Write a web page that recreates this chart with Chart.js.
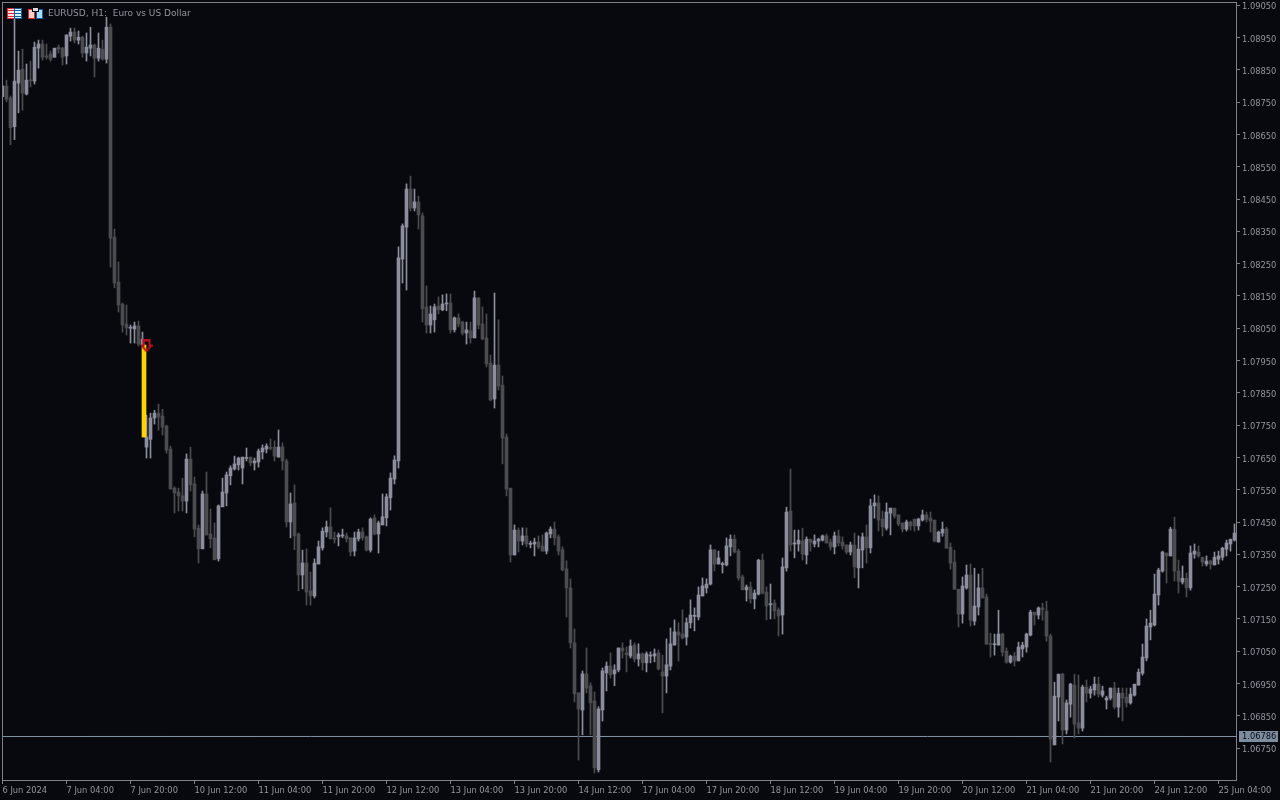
<!DOCTYPE html>
<html>
<head>
<meta charset="utf-8">
<title>EURUSD, H1</title>
<script src="https://cdn.jsdelivr.net/npm/chart.js@4"></script>
<style>
    html, body { margin: 0; padding: 0; background: #08090e; overflow: hidden; }
    #wrap { position: relative; width: 1280px; height: 800px; }
    #title { position: absolute; left: 48px; top: 8px; font: 9px "DejaVu Sans", sans-serif; color: #94949e; white-space: pre; }
    .icon { position: absolute; top: 8px; }
</style>
</head>
<body>
<div id="wrap">
    <canvas id="chart" width="1280" height="800"></canvas>
    <svg class="icon" style="left:7px" width="15" height="11" shape-rendering="crispEdges">
        <rect x="0" y="0" width="15" height="11" fill="#0f5fa8"/>
        <rect x="0" y="0" width="7" height="11" fill="#e0262c"/>
        <rect x="1" y="1" width="6" height="9" fill="#ffe4e0"/>
        <rect x="8" y="1" width="6" height="9" fill="#dcefff"/>
        <rect x="1" y="2" width="6" height="1" fill="#e0262c"/>
        <rect x="1" y="5" width="6" height="1" fill="#e0262c"/>
        <rect x="1" y="8" width="6" height="1" fill="#e0262c"/>
        <rect x="8" y="2" width="6" height="1" fill="#0f5fa8"/>
        <rect x="8" y="5" width="6" height="1" fill="#0f5fa8"/>
        <rect x="8" y="8" width="6" height="1" fill="#0f5fa8"/>
    </svg>
    <svg class="icon" style="left:28px" width="15" height="11" shape-rendering="crispEdges">
        <rect x="0" y="1" width="7" height="10" fill="#e0262c"/>
        <rect x="8" y="1" width="7" height="10" fill="#0f5fa8"/>
        <rect x="1" y="2" width="5" height="8" fill="#ffd0cc"/>
        <rect x="9" y="2" width="5" height="8" fill="#a8dcff"/>
        <rect x="4" y="0" width="7" height="4" fill="#08090e"/>
        <rect x="5" y="0" width="5" height="3" fill="#d8d8d8"/>
    </svg>
    <div id="title">EURUSD, H1:  Euro vs US Dollar</div>
</div>
<script>
// Chart data
const opens = [
    1.08767,1.08800,1.08763,1.08674,1.08809,1.08852,1.08775,1.08819,1.08815,1.08917,
    1.08930,1.08893,1.08899,1.08889,1.08920,1.08917,1.08893,1.08954,1.08967,1.08942,
    1.08951,1.08902,1.08917,1.08927,1.08886,1.08914,1.08883,1.08982,1.08332,1.08193,
    1.08125,1.08063,1.08050,1.08048,1.08057,1.07998,1.07682,1.07706,1.07772,1.07787,
    1.07778,1.07747,1.07676,1.07555,1.07543,1.07531,1.07515,1.07645,1.07568,1.07431,
    1.07367,1.07537,1.07413,1.07401,1.07336,1.07497,1.07540,1.07593,1.07614,1.07627,
    1.07617,1.07647,1.07651,1.07633,1.07636,1.07667,1.07676,1.07681,1.07682,1.07651,
    1.07682,1.07639,1.07450,1.07509,1.07413,1.07286,1.07323,1.07237,1.07221,1.07320,
    1.07370,1.07419,1.07435,1.07400,1.07404,1.07407,1.07407,1.07401,1.07360,1.07398,
    1.07419,1.07404,1.07363,1.07463,1.07413,1.07441,1.07463,1.07525,1.07583,1.07639,
    1.08264,1.08363,1.08481,1.08422,1.08441,1.08398,1.08116,1.08060,1.08076,1.08119,
    1.08107,1.08125,1.08128,1.08045,1.08082,1.08069,1.08035,1.08042,1.08020,1.08144,
    1.08063,1.08020,1.07942,1.07831,1.07936,1.07874,1.07713,1.07555,1.07348,1.07425,
    1.07391,1.07407,1.07381,1.07382,1.07388,1.07376,1.07360,1.07413,1.07428,1.07404,
    1.07364,1.07305,1.07246,1.07076,1.06921,1.06868,1.06980,1.06943,1.06896,1.06683,
    1.06868,1.06983,1.07004,1.06980,1.06992,1.07060,1.07045,1.07035,1.07069,1.07026,
    1.07042,1.07014,1.07035,1.07035,1.07045,1.06986,1.06973,1.07004,1.07069,1.07110,
    1.07103,1.07094,1.07138,1.07158,1.07156,1.07221,1.07246,1.07258,1.07364,1.07320,
    1.07318,1.07317,1.07373,1.07397,1.07360,1.07280,1.07240,1.07249,1.07212,1.07227,
    1.07332,1.07233,1.07194,1.07199,1.07178,1.07162,1.07308,1.07484,1.07382,1.07382,
    1.07391,1.07348,1.07397,1.07382,1.07391,1.07394,1.07407,1.07388,1.07373,1.07407,
    1.07388,1.07379,1.07357,1.07379,1.07308,1.07363,1.07404,1.07370,1.07500,1.07509,
    1.07459,1.07431,1.07478,1.07493,1.07472,1.07447,1.07428,1.07450,1.07459,1.07438,
    1.07456,1.07472,1.07462,1.07456,1.07388,1.07416,1.07428,1.07372,1.07326,1.07242,
    1.07165,1.07246,1.07286,1.07143,1.07187,1.07246,1.07218,1.07074,1.07070,1.07069,
    1.07103,1.07050,1.07016,1.07035,1.07020,1.07057,1.07063,1.07100,1.07171,1.07162,
    1.07184,1.07174,1.07097,1.06760,1.06908,1.06979,1.06806,1.06886,1.06945,1.06828,
    1.06812,1.06939,1.06920,1.06930,1.06948,1.06914,1.06899,1.06905,1.06936,1.06877,
    1.06920,1.06908,1.06890,1.06914,1.06945,1.06982,1.07029,1.07125,1.07131,1.07224,
    1.07298,1.07354,1.07345,1.07428,1.07298,1.07264,1.07276,1.07246,1.07351,1.07357,
    1.07341,1.07320,1.07329,1.07317,1.07335,1.07341,1.07366,1.07382,1.07394
];
const closes = [
    1.08800,1.08759,1.08671,1.08815,1.08849,1.08778,1.08818,1.08816,1.08920,1.08930,
    1.08889,1.08889,1.08883,1.08917,1.08914,1.08889,1.08958,1.08967,1.08942,1.08951,
    1.08902,1.08920,1.08927,1.08886,1.08917,1.08883,1.08982,1.08329,1.08190,1.08122,
    1.08060,1.08051,1.08053,1.08057,1.08001,1.08016,1.07713,1.07772,1.07787,1.07775,
    1.07744,1.07672,1.07552,1.07540,1.07531,1.07515,1.07645,1.07565,1.07428,1.07367,
    1.07537,1.07410,1.07398,1.07333,1.07500,1.07543,1.07596,1.07617,1.07630,1.07648,
    1.07651,1.07650,1.07633,1.07639,1.07670,1.07679,1.07685,1.07678,1.07654,1.07682,
    1.07639,1.07450,1.07506,1.07407,1.07286,1.07323,1.07233,1.07221,1.07323,1.07373,
    1.07422,1.07435,1.07398,1.07397,1.07410,1.07410,1.07398,1.07357,1.07401,1.07419,
    1.07401,1.07363,1.07459,1.07413,1.07447,1.07466,1.07528,1.07586,1.07642,1.08268,
    1.08367,1.08481,1.08422,1.08441,1.08401,1.08110,1.08060,1.08094,1.08116,1.08107,
    1.08125,1.08128,1.08045,1.08082,1.08063,1.08035,1.08045,1.08020,1.08144,1.08060,
    1.08017,1.07939,1.07828,1.07936,1.07871,1.07710,1.07552,1.07348,1.07425,1.07391,
    1.07407,1.07382,1.07384,1.07388,1.07373,1.07360,1.07416,1.07428,1.07401,1.07360,
    1.07302,1.07246,1.07076,1.06918,1.06871,1.06980,1.06936,1.06890,1.06689,1.06871,
    1.06989,1.07004,1.06977,1.06992,1.07060,1.07051,1.07039,1.07066,1.07026,1.07042,
    1.07014,1.07042,1.07038,1.07042,1.06995,1.06973,1.07008,1.07073,1.07110,1.07100,
    1.07091,1.07138,1.07162,1.07161,1.07224,1.07252,1.07258,1.07364,1.07320,1.07339,
    1.07321,1.07376,1.07397,1.07357,1.07277,1.07240,1.07249,1.07212,1.07230,1.07332,
    1.07230,1.07190,1.07197,1.07175,1.07159,1.07311,1.07481,1.07379,1.07385,1.07394,
    1.07351,1.07397,1.07388,1.07391,1.07397,1.07407,1.07385,1.07373,1.07407,1.07385,
    1.07376,1.07357,1.07379,1.07311,1.07366,1.07404,1.07370,1.07500,1.07509,1.07456,
    1.07435,1.07481,1.07493,1.07469,1.07444,1.07428,1.07450,1.07438,1.07438,1.07459,
    1.07472,1.07459,1.07453,1.07391,1.07419,1.07428,1.07369,1.07323,1.07242,1.07165,
    1.07252,1.07286,1.07146,1.07190,1.07246,1.07215,1.07072,1.07071,1.07073,1.07103,
    1.07047,1.07016,1.07035,1.07020,1.07063,1.07069,1.07103,1.07171,1.07162,1.07184,
    1.07178,1.07097,1.06778,1.06911,1.06979,1.06806,1.06890,1.06948,1.06824,1.06812,
    1.06939,1.06920,1.06933,1.06948,1.06917,1.06927,1.06905,1.06936,1.06877,1.06920,
    1.06905,1.06890,1.06917,1.06948,1.06985,1.07032,1.07128,1.07137,1.07227,1.07301,
    1.07357,1.07345,1.07428,1.07298,1.07267,1.07276,1.07246,1.07354,1.07360,1.07345,
    1.07326,1.07329,1.07320,1.07341,1.07345,1.07369,1.07385,1.07397,1.07416
];
const highs = [
    1.08800,1.08818,1.08769,1.09014,1.08908,1.08914,1.08868,1.08877,1.08936,1.08942,
    1.08942,1.08930,1.08908,1.08917,1.08927,1.08920,1.08958,1.08979,1.08979,1.08970,
    1.08954,1.08964,1.08982,1.08930,1.08964,1.08942,1.09013,1.08992,1.08357,1.08255,
    1.08128,1.08122,1.08060,1.08069,1.08072,1.08038,1.07781,1.07787,1.07796,1.07815,
    1.07799,1.07750,1.07685,1.07559,1.07555,1.07586,1.07661,1.07682,1.07589,1.07441,
    1.07546,1.07605,1.07490,1.07447,1.07503,1.07586,1.07605,1.07624,1.07654,1.07651,
    1.07651,1.07679,1.07651,1.07648,1.07676,1.07689,1.07692,1.07707,1.07701,1.07735,
    1.07695,1.07645,1.07540,1.07565,1.07416,1.07363,1.07367,1.07295,1.07336,1.07391,
    1.07432,1.07453,1.07494,1.07419,1.07416,1.07428,1.07416,1.07401,1.07419,1.07428,
    1.07432,1.07407,1.07463,1.07472,1.07453,1.07537,1.07537,1.07602,1.07655,1.08302,
    1.08373,1.08497,1.08521,1.08481,1.08459,1.08407,1.08181,1.08119,1.08125,1.08147,
    1.08153,1.08156,1.08156,1.08085,1.08094,1.08072,1.08069,1.08069,1.08165,1.08144,
    1.08116,1.08094,1.07967,1.08159,1.08076,1.07902,1.07723,1.07555,1.07441,1.07432,
    1.07432,1.07432,1.07391,1.07400,1.07407,1.07410,1.07419,1.07435,1.07450,1.07410,
    1.07373,1.07330,1.07274,1.07119,1.06921,1.06989,1.07060,1.06952,1.06924,1.06878,
    1.06998,1.07017,1.07045,1.07008,1.07060,1.07076,1.07063,1.07085,1.07076,1.07073,
    1.07045,1.07048,1.07048,1.07057,1.07054,1.07038,1.07088,1.07122,1.07147,1.07138,
    1.07178,1.07153,1.07209,1.07184,1.07249,1.07277,1.07274,1.07379,1.07364,1.07360,
    1.07326,1.07401,1.07410,1.07410,1.07366,1.07286,1.07255,1.07264,1.07240,1.07335,
    1.07351,1.07249,1.07258,1.07209,1.07184,1.07339,1.07496,1.07614,1.07425,1.07425,
    1.07431,1.07404,1.07397,1.07410,1.07400,1.07410,1.07413,1.07397,1.07419,1.07425,
    1.07404,1.07379,1.07388,1.07416,1.07407,1.07416,1.07441,1.07521,1.07534,1.07531,
    1.07484,1.07509,1.07493,1.07493,1.07472,1.07447,1.07456,1.07453,1.07459,1.07462,
    1.07487,1.07481,1.07481,1.07456,1.07422,1.07450,1.07434,1.07385,1.07363,1.07242,
    1.07280,1.07317,1.07320,1.07307,1.07289,1.07307,1.07227,1.07106,1.07103,1.07177,
    1.07106,1.07060,1.07038,1.07047,1.07078,1.07078,1.07106,1.07177,1.07171,1.07187,
    1.07199,1.07205,1.07103,1.06954,1.06979,1.06982,1.06899,1.06951,1.06979,1.06976,
    1.06945,1.06961,1.06942,1.06970,1.06970,1.06942,1.06911,1.06936,1.06954,1.06936,
    1.06936,1.06936,1.06936,1.06948,1.06995,1.07072,1.07150,1.07177,1.07289,1.07307,
    1.07360,1.07354,1.07434,1.07465,1.07332,1.07314,1.07292,1.07376,1.07382,1.07376,
    1.07341,1.07345,1.07332,1.07357,1.07360,1.07372,1.07394,1.07397,1.07444
];
const lows = [
    1.08767,1.08751,1.08618,1.08634,1.08717,1.08725,1.08772,1.08797,1.08806,1.08855,
    1.08880,1.08883,1.08877,1.08889,1.08902,1.08865,1.08868,1.08939,1.08933,1.08930,
    1.08889,1.08877,1.08893,1.08828,1.08877,1.08880,1.08871,1.08239,1.08175,1.08100,
    1.08038,1.08029,1.08004,1.08004,1.07995,1.07998,1.07648,1.07648,1.07753,1.07734,
    1.07719,1.07663,1.07552,1.07478,1.07484,1.07484,1.07478,1.07546,1.07404,1.07323,
    1.07367,1.07410,1.07370,1.07333,1.07329,1.07497,1.07500,1.07565,1.07611,1.07611,
    1.07568,1.07639,1.07624,1.07611,1.07620,1.07645,1.07664,1.07673,1.07639,1.07651,
    1.07611,1.07435,1.07401,1.07364,1.07237,1.07243,1.07193,1.07193,1.07215,1.07320,
    1.07363,1.07404,1.07398,1.07385,1.07376,1.07401,1.07388,1.07345,1.07345,1.07391,
    1.07394,1.07360,1.07357,1.07410,1.07354,1.07441,1.07438,1.07487,1.07568,1.07617,
    1.08190,1.08168,1.08413,1.08413,1.08357,1.08069,1.08035,1.08035,1.08038,1.08094,
    1.08104,1.08104,1.08035,1.08038,1.08054,1.08029,1.08001,1.08004,1.08020,1.08048,
    1.08014,1.07930,1.07825,1.07803,1.07859,1.07630,1.07531,1.07326,1.07348,1.07357,
    1.07379,1.07373,1.07370,1.07345,1.07367,1.07360,1.07351,1.07401,1.07379,1.07348,
    1.07299,1.07156,1.07060,1.06893,1.06713,1.06791,1.06921,1.06791,1.06673,1.06676,
    1.06834,1.06927,1.06967,1.06943,1.06986,1.07029,1.06986,1.07029,1.07017,1.07004,
    1.06992,1.06986,1.07014,1.07017,1.06992,1.06859,1.06921,1.06992,1.07069,1.07020,
    1.07088,1.07069,1.07122,1.07113,1.07147,1.07221,1.07230,1.07255,1.07299,1.07320,
    1.07292,1.07314,1.07345,1.07354,1.07270,1.07240,1.07205,1.07199,1.07181,1.07224,
    1.07227,1.07147,1.07150,1.07150,1.07097,1.07103,1.07298,1.07360,1.07339,1.07360,
    1.07332,1.07320,1.07360,1.07373,1.07373,1.07391,1.07385,1.07363,1.07351,1.07376,
    1.07366,1.07351,1.07348,1.07277,1.07246,1.07308,1.07323,1.07354,1.07462,1.07422,
    1.07407,1.07425,1.07410,1.07462,1.07438,1.07419,1.07422,1.07425,1.07422,1.07425,
    1.07453,1.07450,1.07419,1.07388,1.07388,1.07406,1.07369,1.07304,1.07242,1.07125,
    1.07137,1.07242,1.07128,1.07131,1.07162,1.07215,1.07072,1.07032,1.07038,1.07069,
    1.07035,1.07013,1.07013,1.07004,1.07020,1.07032,1.07047,1.07097,1.07131,1.07150,
    1.07146,1.07081,1.06707,1.06760,1.06834,1.06763,1.06794,1.06846,1.06781,1.06794,
    1.06803,1.06893,1.06905,1.06914,1.06908,1.06908,1.06871,1.06899,1.06871,1.06846,
    1.06834,1.06877,1.06886,1.06911,1.06945,1.06976,1.07020,1.07085,1.07128,1.07193,
    1.07295,1.07261,1.07345,1.07267,1.07230,1.07258,1.07218,1.07239,1.07338,1.07341,
    1.07314,1.07314,1.07304,1.07317,1.07320,1.07332,1.07345,1.07360,1.07391
];

const priceTicks = [1.0905,1.0895,1.0885,1.0875,1.0865,1.0855,1.0845,1.0835,1.0825,1.0815,1.0805,1.0795,
    1.0785,1.0775,1.0765,1.0755,1.0745,1.0735,1.0725,1.0715,1.0705,1.0695,1.0685,1.0675];
const timeTickBars = [0,16,32,48,64,80,96,112,128,144,160,176,192,208,224,240,256,272,288,304];
const timeLabels = ['6 Jun 2024','7 Jun 04:00','7 Jun 20:00','10 Jun 12:00','11 Jun 04:00','11 Jun 20:00',
    '12 Jun 12:00','13 Jun 04:00','13 Jun 20:00','14 Jun 12:00','17 Jun 04:00','17 Jun 20:00','18 Jun 12:00',
    '19 Jun 04:00','19 Jun 20:00','20 Jun 12:00','21 Jun 04:00','21 Jun 20:00','24 Jun 12:00','25 Jun 04:00'];

const lastPrice = 1.06786;
const signalBar = 35.375;
const signalFrom = 1.07998;
const signalTo = 1.07713;
const arrowBar = 36;
const arrowPrice = 1.07995;

const xMin = -0.125, xMax = 308.375;
const yMin = 1.066513, yMax = 1.0906;

const UP = '#8c8e9e', DOWN = '#4c4c50', AXIS = '#808088', TEXT = '#94949e', LINE = '#8095a6';

const barColors = opens.map((o, i) => closes[i] >= o ? UP : DOWN);

// Hollow red arrow above the yellow bar
function makeArrow() {
    const c = document.createElement('canvas');
    c.width = 12; c.height = 13;
    const g = c.getContext('2d');
    g.strokeStyle = '#b8101c';
    g.lineWidth = 2;
    g.beginPath();
    g.moveTo(3, 6); g.lineTo(3, 1); g.lineTo(9, 1); g.lineTo(9, 6);
    g.lineTo(11, 6); g.lineTo(6, 11.5); g.lineTo(1, 6); g.closePath();
    g.stroke();
    return c;
}

// Frame round the plot and the price tag on the axis
const framePlugin = {
    id: 'frame',
    afterDraw(chart) {
        const { ctx, chartArea: a, scales } = chart;
        ctx.save();
        ctx.strokeStyle = AXIS;
        ctx.lineWidth = 1;
        ctx.strokeRect(a.left + 0.5, a.top + 0.5, a.right - a.left, a.bottom - a.top);
        const y = Math.floor(scales.y.getPixelForValue(lastPrice));
        ctx.fillStyle = '#7d8da0';
        ctx.fillRect(1239, y - 5, 39, 11);
        ctx.fillStyle = '#08090e';
        ctx.font = '8.3px "DejaVu Sans", sans-serif';
        ctx.textBaseline = 'middle';
        ctx.fillText(lastPrice.toFixed(5), 1242, y + 1);
        ctx.restore();
    }
};

const tickFont = { family: '"DejaVu Sans", sans-serif', size: 8.3 };

new Chart(document.getElementById('chart'), {
    type: 'bar',
    data: {
        datasets: [
            {
                type: 'scatter',
                data: [{ x: arrowBar, y: arrowPrice }],
                pointStyle: makeArrow(),
                order: 0
            },
            {
                data: [{ x: signalBar, y: [signalTo, signalFrom] }],
                backgroundColor: '#ffd400',
                barThickness: 4,
                grouped: false,
                order: 1
            },
            {
                data: opens.map((o, i) => ({ x: i, y: [o, closes[i]] })),
                backgroundColor: barColors,
                barThickness: 3,
                minBarLength: 1,
                grouped: false,
                order: 2
            },
            {
                data: opens.map((o, i) => ({ x: i, y: [lows[i], highs[i]] })),
                backgroundColor: barColors,
                barThickness: 1,
                grouped: false,
                order: 3
            },
            {
                type: 'line',
                data: [{ x: xMin, y: lastPrice }, { x: xMax, y: lastPrice }],
                borderColor: LINE,
                borderWidth: 1,
                pointRadius: 0,
                order: 4
            }
        ]
    },
    options: {
        responsive: false,
        animation: false,
        layout: { autoPadding: false, padding: { left: 2, top: 2, right: 0, bottom: 0 } },
        plugins: { legend: { display: false }, tooltip: { enabled: false } },
        scales: {
            x: {
                type: 'linear',
                min: xMin,
                max: xMax,
                offset: false,
                grid: { offset: false, drawOnChartArea: false, color: AXIS, tickLength: 4 },
                border: { color: AXIS },
                afterBuildTicks: s => { s.ticks = timeTickBars.map(v => ({ value: v })); },
                afterFit: s => { s.height = 20; s.paddingLeft = 0; s.paddingRight = 0; },
                ticks: {
                    autoSkip: false,
                    maxRotation: 0,
                    align: 'start',
                    padding: 2,
                    color: TEXT,
                    font: tickFont,
                    callback: v => timeLabels[timeTickBars.indexOf(v)]
                }
            },
            y: {
                position: 'right',
                min: yMin,
                max: yMax,
                beginAtZero: false,
                grid: { drawOnChartArea: false, color: AXIS, tickLength: 4 },
                border: { color: AXIS },
                afterBuildTicks: s => { s.ticks = priceTicks.map(v => ({ value: v })); },
                afterFit: s => { s.width = 44; s.paddingTop = 0; s.paddingBottom = 0; },
                ticks: {
                    padding: 2,
                    labelOffset: 2,
                    color: TEXT,
                    font: tickFont,
                    callback: v => v.toFixed(5)
                }
            }
        }
    },
    plugins: [framePlugin]
});
</script>
</body>
</html>
